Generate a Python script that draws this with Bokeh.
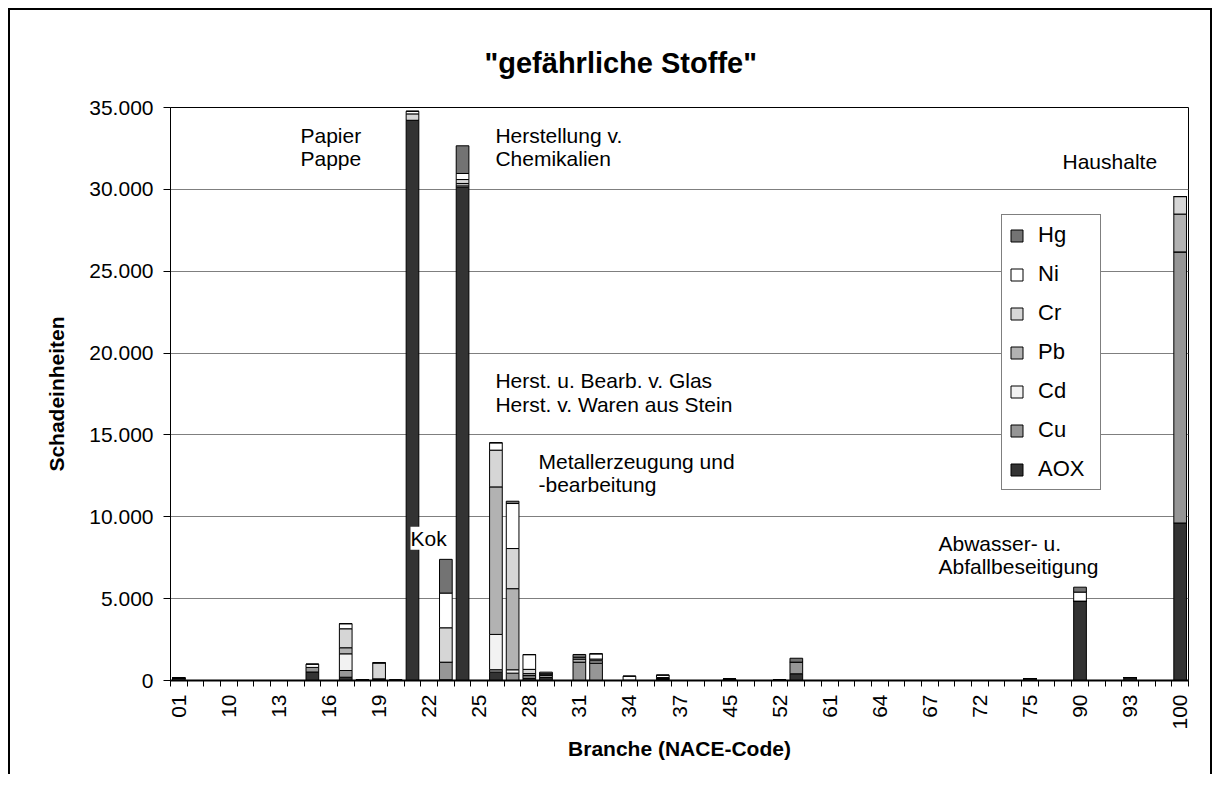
import math
from bokeh.plotting import figure
from bokeh.models import Range1d, FixedTicker, Label, Legend, LegendItem, ColumnDataSource, Title
from bokeh.embed import file_html
from bokeh.resources import INLINE

# NACE codes (categories)
codes = ["01", "02", "05", "10", "11", "12", "13", "14", "15", "16", "17", "18", "19", "20",
         "21", "22", "23", "24", "25", "26", "27", "28", "29", "30", "31", "32", "33", "34",
         "35", "36", "37", "40", "41", "45", "50", "51", "52", "55", "60", "61", "62", "63",
         "64", "65", "66", "67", "70", "71", "72", "73", "74", "75", "80", "85", "90", "91",
         "92", "93", "95", "99", "100"]

# Schadeinheiten per NACE code (only non-zero values listed)
aox = {"01": 150, "15": 520, "17": 200, "18": 60, "19": 60, "21": 34220, "23": 40, "24": 30130,
       "26": 510, "28": 130, "29": 180, "34": 15, "36": 60, "45": 80, "55": 410, "75": 120,
       "90": 4850, "93": 180, "100": 9620}
cu = {"15": 280, "17": 410, "19": 40, "23": 1080, "26": 150, "27": 450, "28": 170, "29": 130,
      "31": 1120, "32": 1060, "36": 60, "52": 40, "55": 710, "100": 16560}
cd = {"17": 1020, "24": 80, "26": 2155, "27": 205}
pb = {"17": 370, "24": 150, "26": 9010, "27": 4955, "28": 120, "29": 100, "31": 200, "32": 150,
      "100": 2310}
cr = {"17": 1160, "19": 980, "20": 30, "21": 390, "23": 2100, "24": 240, "26": 2245, "27": 2450,
      "28": 260, "32": 100, "36": 60, "100": 1070}
ni = {"15": 200, "17": 310, "21": 160, "23": 2120, "24": 370, "26": 450, "27": 2750, "28": 900,
      "31": 100, "32": 320, "34": 250, "36": 150, "90": 550}
hg = {"23": 2060, "24": 1690, "27": 140, "29": 100, "31": 170, "55": 240, "90": 300}

series_names = ["AOX", "Cu", "Cd", "Pb", "Cr", "Ni", "Hg"]
series_data = [aox, cu, cd, pb, cr, ni, hg]
series_colors = ["#333333", "#969696", "#f2f2f2", "#b2b2b2", "#d6d6d6", "#ffffff", "#737373"]

y_ticks = [0, 5000, 10000, 15000, 20000, 25000, 30000, 35000]
y_tick_labels = ["0", "5.000", "10.000", "15.000", "20.000", "25.000", "30.000", "35.000"]

FONT = "Liberation Sans"

data = {"x": list(range(len(codes)))}
for name, d in zip(series_names, series_data):
    data[name] = [d.get(c, 0) for c in codes]
source = ColumnDataSource(data)

p = figure(width=1204, height=766,
           x_range=Range1d(-0.5, len(codes) - 0.5), y_range=Range1d(0, 35000),
           output_backend="svg", toolbar_location=None,
           min_border_left=160, min_border_right=26, min_border_top=97, min_border_bottom=96)
p.styles = {"margin-left": "8px", "margin-top": "8px",
            "border-left": "2px solid black", "border-top": "2px solid black",
            "border-right": "2px solid black"}

p.background_fill_color = "white"
p.border_fill_color = "white"
p.outline_line_color = "black"
p.outline_line_width = 1

# title
p.title = Title(text='"gefährliche Stoffe"', align="left", offset=314,
                vertical_align="bottom", standoff=58, text_font=FONT,
                text_font_size="29px", text_font_style="bold", text_color="black")

renderers = p.vbar_stack(series_names, x="x", width=0.76, source=source,
                         fill_color=series_colors, line_color="black", line_width=1)

# axes
xa = p.xaxis[0]
xa.ticker = FixedTicker(ticks=list(range(0, len(codes), 3)),
                        minor_ticks=[i - 0.5 for i in range(len(codes) + 1)])
xa.major_label_overrides = {i: codes[i] for i in range(0, len(codes), 3)}
xa.major_label_orientation = math.pi / 2
xa.major_tick_line_color = None
xa.major_tick_out = 6
xa.major_tick_in = 0
xa.minor_tick_out = 6
xa.minor_tick_in = 0
xa.minor_tick_line_color = "black"
xa.major_label_standoff = 8
xa.axis_line_width = 2
xa.axis_line_color = "black"
xa.major_label_text_font = FONT
xa.major_label_text_font_size = "21px"
xa.major_label_text_color = "black"
xa.axis_label = "Branche (NACE-Code)"
xa.axis_label_text_font = FONT
xa.axis_label_text_font_size = "21px"
xa.axis_label_text_font_style = "bold"
xa.axis_label_text_color = "black"
xa.axis_label_standoff = 4

ya = p.yaxis[0]
ya.ticker = FixedTicker(ticks=y_ticks)
ya.major_label_overrides = {t: l for t, l in zip(y_ticks, y_tick_labels)}
ya.major_tick_out = 7
ya.major_tick_in = 0
ya.minor_tick_line_color = None
ya.major_label_standoff = 10
ya.axis_line_color = "black"
ya.major_tick_line_color = "black"
ya.major_label_text_font = FONT
ya.major_label_text_font_size = "21px"
ya.major_label_text_color = "black"
ya.axis_label = "Schadeinheiten"
ya.axis_label_text_font = FONT
ya.axis_label_text_font_size = "21px"
ya.axis_label_text_font_style = "bold"
ya.axis_label_text_color = "black"
ya.axis_label_standoff = 18

p.xgrid.grid_line_color = None
p.ygrid.ticker = FixedTicker(ticks=y_ticks)
p.ygrid.grid_line_color = "#7f7f7f"
p.ygrid.grid_line_width = 1

# legend (Hg on top)
items = [LegendItem(label=n, renderers=[r]) for n, r in zip(series_names, renderers)][::-1]
legend = Legend(items=items, location=(831, 190), orientation="vertical",
                glyph_width=15, glyph_height=15, label_standoff=14, spacing=13,
                padding=7, margin=0, label_width=55, label_text_font=FONT,
                label_text_font_size="22px",
                label_text_color="black", border_line_color="black", border_line_width=1,
                background_fill_color="white", background_fill_alpha=1.0)
p.add_layout(legend)

# annotations: (text, x, y)
notes = [
    ("Papier", 7.29, 33287), ("Pappe", 7.29, 31880),
    ("Herstellung v.", 18.97, 33287), ("Chemikalien", 18.97, 31880),
    ("Haushalte", 52.95, 31696),
    ("Herst. u. Bearb. v. Glas", 18.97, 18296), ("Herst. v. Waren aus Stein", 18.97, 16888),
    ("Metallerzeugung und", 21.55, 13400), ("-bearbeitung", 21.55, 11993),
    ("Abwasser- u.", 45.52, 8383), ("Abfallbeseitigung", 45.52, 6976),
]
for t, x, y in notes:
    p.add_layout(Label(x=x, y=y, text=t, text_align="left", text_baseline="middle",
                       text_font=FONT, text_font_size="21px", text_color="black"))
p.add_layout(Label(x=13.88, y=8689, text="Kok", text_align="left", text_baseline="middle",
                   text_font=FONT, text_font_size="21px", text_color="black",
                   background_fill_color="white", background_fill_alpha=1.0))

open("out.html", "w").write(file_html(p, INLINE))
